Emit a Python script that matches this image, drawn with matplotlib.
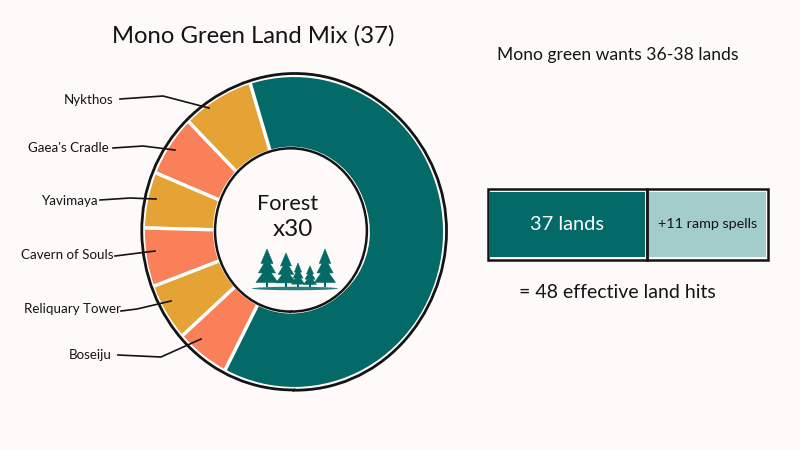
import matplotlib
matplotlib.use("Agg")
import matplotlib.pyplot as plt
from matplotlib.patches import Ellipse, Polygon, Rectangle

plt.rcParams['font.family'] = ['Lato', 'DejaVu Sans']

slice_names = ["Nykthos", "Gaea's Cradle", "Yavimaya", "Cavern of Souls", "Reliquary Tower", "Boseiju", "Forest"]
# slice sizes as drawn, forest = 30
slice_values = [3.72, 3.05, 2.79, 2.93, 2.86, 2.78, 30]
slice_colors = ["#E5A335", "#F98058", "#E5A335", "#F98058", "#E5A335", "#F98058", "#046A67"]

bar_labels = ["37 lands", "+11 ramp spells"]
# bar lengths as drawn, not to scale with the labels
bar_lengths = [37, 28.2]
bar_colors = ["#046A67", "#A3CDCB"]

BG = "#FDFAF9"
INK = "#141414"
TEAL = "#046A67"

fig = plt.figure(figsize=(8, 4.5), dpi=100, facecolor=BG)


def px_axes(x0, y0, x1, y1):
    return fig.add_axes([x0 / 800, 1 - y1 / 450, (x1 - x0) / 800, (y1 - y0) / 450])


# donut, slightly taller than wide like the reference
donut = px_axes(141, 73, 447, 391)
donut.pie(slice_values, colors=slice_colors, startangle=107, radius=0.985,
          wedgeprops=dict(width=0.5, edgecolor="white", linewidth=2.4))
donut.set_aspect('auto')
donut.set_xlim(-1, 1)
donut.set_ylim(-1, 1)
outer = Ellipse((0, 0), 1.99, 1.99, fill=False, edgecolor=INK, linewidth=2.0, clip_on=False)
outer.set_sketch_params(scale=0.35, length=220, randomness=2)
donut.add_patch(outer)
# white ring just outside the inner ink line
ring = Ellipse((-0.02, 0.012), 1.02, 1.05, facecolor="white", edgecolor='none', zorder=3)
donut.add_patch(ring)
hole = Ellipse((-0.02, 0.012), 0.995, 1.025, facecolor=BG, edgecolor=INK, linewidth=1.8, zorder=3)
hole.set_sketch_params(scale=0.3, length=200, randomness=2)
donut.add_patch(hole)

# overlay in pixel coordinates
ax = px_axes(0, 0, 800, 450)
ax.set_xlim(0, 800)
ax.set_ylim(450, 0)
ax.axis('off')
ax.patch.set_alpha(0)

ax.text(253, 36, "Mono Green Land Mix (37)", ha='center', va='center', fontsize=17.2, color=INK)
ax.text(618, 55, "Mono green wants 36-38 lands", ha='center', va='center', fontsize=12.6, color=INK)
ax.text(288, 204, "Forest", ha='center', va='center', fontsize=15.6, color=INK)
ax.text(293, 230, "x30", ha='center', va='center', fontsize=17.5, color=INK)
ax.text(617, 293, "= 48 effective land hits", ha='center', va='center', fontsize=14, color=INK)

# labels and hand drawn leaders
label_pos = [(89, 100), (68, 148), (69, 201), (67, 255), (73, 309), (90, 355)]
leaders = [
    [(120, 99), (163, 96), (209, 108)],
    [(113, 148), (143, 146), (175, 150)],
    [(100, 200), (130, 198), (156, 199)],
    [(115, 256), (155, 251)],
    [(121, 311), (137, 309), (171, 301)],
    [(118, 355), (161, 357), (201, 339)],
]
for name, (lx, ly), pts in zip(slice_names, label_pos, leaders):
    ax.text(lx, ly, name, ha='center', va='center', fontsize=9.6, color=INK)
    ax.plot([p[0] for p in pts], [p[1] for p in pts], color=INK, linewidth=1.2)

# tree doodle: x, top, half width
trees = [(267, 249, 11), (286, 253, 10), (298, 263, 6.5), (310, 266, 6.5), (325, 249, 10.5)]
base_y = 287
for tx, top, hw in trees:
    h = base_y - top
    for k in range(3):
        t0 = top + h * k * 0.24
        t1 = top + h * (0.38 + k * 0.25)
        w = hw * (0.55 + 0.225 * k)
        ax.add_patch(Polygon([(tx, t0), (tx - w, t1), (tx + w, t1)], facecolor=TEAL, edgecolor=TEAL, linewidth=0.4))
    ax.add_patch(Rectangle((tx - 1.2, top + h * 0.85), 2.4, h * 0.15, facecolor=TEAL, edgecolor='none'))
ax.add_patch(Ellipse((295, 288.5), 86, 3.5, facecolor=TEAL, edgecolor='none', alpha=0.85))

# stacked bar
bar = px_axes(488, 189, 768, 260)
bar.set_xlim(0, sum(bar_lengths))
bar.set_ylim(0, 1)
bar.axis('off')
pad = 0.5
left = 0
for length, color, label, tcol, size in zip(bar_lengths, bar_colors, bar_labels, ["white", INK], [14.4, 10.4]):
    bar.barh(0.5, length - 2 * pad, left=left + pad, height=0.92, color=color, edgecolor="none")
    # white gap inside the ink outline
    bar.add_patch(Rectangle((left, 0), length, 1, fill=False, edgecolor=INK, linewidth=1.8, clip_on=False))
    bar.text(left + length / 2, 0.5, label, ha='center', va='center', fontsize=size, color=tcol)
    left += length

fig.savefig("out.png", dpi=100, facecolor=BG)
